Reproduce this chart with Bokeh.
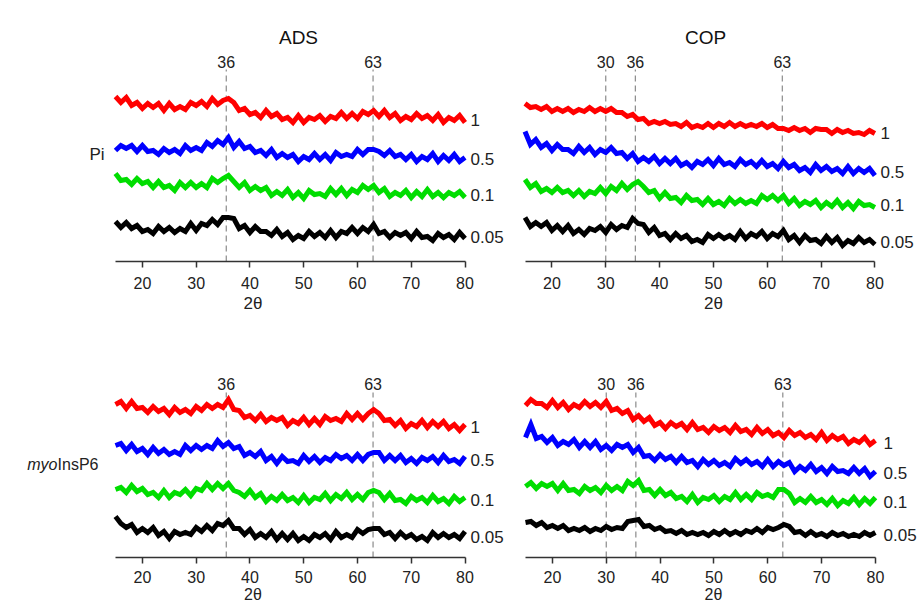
from bokeh.plotting import figure
from bokeh.layouts import column, row
from bokeh.models import Range1d, FixedTicker, Label
from bokeh.embed import file_html
from bokeh.resources import INLINE

# ---------------- data ----------------
two_theta = list(range(15, 81))
tick_values = [20, 30, 40, 50, 60, 70, 80]
loadings = ["1", "0.5", "0.1", "0.05"]
colors = ["#ff0000", "#0000ff", "#00dd00", "#000000"]

# ADS / Pi  (relative intensity, arbitrary units)
ads_pi_1 = [23,17,22,14,17,11,16,12,16,9,16,10,13,10,17,14,18,13,21,15,19,21,17,9,11,5,7,2,9,3,6,0,2,-3,4,-3,2,0,4,-2,3,1,7,1,6,1,8,5,9,3,9,2,6,-1,3,0,6,1,4,-1,5,-3,2,-1,4,-3]
ads_pi_05 = [8,13,10,13,7,13,7,8,4,10,6,9,5,13,8,11,8,16,12,18,14,21,11,17,10,12,6,8,3,9,1,5,1,4,-3,2,-1,5,-1,4,-2,6,2,4,2,9,4,9,9,7,3,8,2,4,-1,4,-3,2,-1,5,-3,3,-2,4,-3,1]
ads_pi_01 = [21,14,15,10,16,11,13,7,13,7,9,4,12,7,12,7,11,7,16,12,16,19,13,7,12,4,8,4,7,-1,3,-1,5,-3,2,-4,4,0,1,-2,6,0,6,-1,5,2,9,5,9,2,6,-2,2,-1,4,-3,3,-2,5,-2,2,-3,2,-1,3,-3]
ads_pi_005 = [15,9,14,8,11,5,7,3,10,5,9,4,8,5,13,6,13,11,17,12,19,19,18,8,11,4,10,5,5,1,7,0,4,-3,1,-2,5,0,4,-1,6,-1,5,3,9,3,9,5,12,3,5,-1,4,1,4,-2,5,-1,0,-4,3,-1,2,-3,4,-2]
ads_pi_offsets = [142, 103, 67, 25]

# COP / Pi
cop_pi_1 = [29,25,26,23,26,21,24,21,24,20,23,21,25,21,24,21,24,20,20,16,18,13,14,9,11,9,11,8,9,6,10,5,7,5,9,5,9,6,10,6,9,6,8,6,9,5,8,4,4,2,5,2,4,0,4,3,3,-1,3,0,2,-1,0,-2,2,-1]
cop_pi_05 = [40,27,32,24,28,21,27,22,22,18,25,19,24,17,22,19,24,18,19,13,18,10,14,10,15,8,13,8,13,6,9,4,10,7,12,6,13,7,9,5,12,7,10,5,11,5,8,3,10,4,7,1,4,-1,7,1,5,0,3,-2,5,-2,3,-1,3,-4]
cop_pi_01 = [25,17,21,13,16,12,17,12,14,9,14,8,13,11,17,11,18,14,21,15,20,23,18,12,14,6,12,6,7,2,9,4,5,0,6,0,3,-1,6,1,5,1,4,1,9,5,9,4,9,1,6,-1,3,0,4,-3,2,-2,4,-3,2,-4,3,-1,0,-3]
cop_pi_005 = [24,15,19,15,19,11,16,10,16,8,12,7,13,11,15,9,17,12,16,14,23,18,17,9,14,6,8,2,8,3,6,0,2,-1,7,3,7,3,6,2,10,3,8,5,10,3,8,5,11,2,6,-1,6,1,2,-2,5,-1,4,-4,1,-2,4,-1,2,-3]
cop_pi_offsets = [129, 90, 57, 20]

# ADS / myo-InsP6
ads_ip6_1 = [22,25,18,25,18,19,14,20,15,18,12,19,14,17,13,20,16,22,18,22,19,27,17,16,9,11,6,12,5,9,6,9,1,6,3,9,2,8,2,10,6,8,5,13,7,13,7,13,17,13,6,7,1,6,-2,3,0,6,-1,5,0,5,-2,2,-4,2]
ads_ip6_05 = [14,16,9,15,8,11,5,12,6,10,5,8,5,14,9,14,10,14,11,19,13,17,11,13,4,7,3,8,-1,3,-4,3,-2,-1,-4,4,-2,3,-3,2,-1,5,1,4,-1,5,-1,5,7,7,-1,4,-1,4,-3,1,-4,2,-1,3,-3,4,-2,0,-4,3]
ads_ip6_01 = [10,12,7,14,8,11,5,7,2,9,2,7,5,10,4,11,9,16,10,16,11,16,9,7,3,9,2,6,-2,3,-1,5,-1,2,-3,4,-3,2,0,6,-1,5,1,7,0,5,0,7,9,7,0,6,-1,0,-4,3,-1,2,-3,4,-2,1,-4,3,-2,2]
ads_ip6_005 = [20,13,9,12,4,8,4,9,1,5,-2,5,2,4,2,9,5,11,6,13,11,16,8,8,2,7,-1,3,-1,5,-3,3,-3,3,-4,0,-4,2,-1,3,-3,5,-1,2,-1,7,3,7,8,8,2,4,-2,4,-1,2,-3,0,-4,4,-1,3,-1,2,-2,5]
ads_ip6_offsets = [131, 98, 58, 21]

# COP / myo-InsP6
cop_ip6_1 = [37,43,39,39,35,42,35,40,33,38,35,41,36,40,35,41,32,34,29,32,23,27,21,25,17,20,14,20,16,19,13,20,13,15,10,16,12,15,10,17,11,13,8,15,9,13,7,10,5,12,7,10,5,8,3,10,2,7,3,6,-1,3,0,5,-2,2]
cop_ip6_05 = [35,48,34,36,30,35,27,31,28,33,25,31,25,31,23,27,22,28,25,28,20,25,16,17,12,18,13,16,10,16,10,12,6,13,8,12,7,10,6,14,9,13,8,11,6,13,6,11,7,10,1,6,2,8,1,5,-1,6,1,2,-1,5,-1,4,-4,1]
cop_ip6_01 = [15,19,13,18,15,18,11,18,11,12,8,15,11,14,9,16,11,15,11,20,16,21,11,12,6,12,6,9,3,5,0,7,-1,4,2,6,0,5,2,9,2,7,2,9,5,7,4,12,12,8,-1,3,-1,5,-1,2,-3,3,-4,1,-2,4,-3,3,-2,4]
cop_ip6_005 = [12,13,9,12,7,9,6,9,4,6,4,7,3,6,4,8,5,7,6,13,14,15,8,9,5,7,3,4,1,4,0,2,0,2,-1,3,0,4,0,3,0,4,2,6,2,7,5,7,10,8,2,3,-1,3,-1,1,-2,2,-1,1,-2,0,-2,2,-1,2]
cop_ip6_offsets = [115, 85, 56, 23]

ads_peaks = [35.6, 62.9]
ads_peak_labels = ["36", "63"]
cop_peaks = [30.0, 35.5, 62.8]
cop_peak_labels = ["30", "36", "63"]

FONT = "Liberation Sans"
TXT = "#222222"


def make_panel(fw, fh, bottom, px_left, ppu, series, offsets, peaks, peak_labels,
               peak_label_px, dash_top_px, series_label_px, title=None, title_px=None,
               label_standoff=9, axis_label_size="17px", axis_label_standoff=2):
    x0 = 15 - px_left / ppu
    x1 = x0 + fw / ppu
    p = figure(frame_width=fw, frame_height=fh, x_range=Range1d(x0, x1),
               y_range=Range1d(0, fh), output_backend="svg", toolbar_location=None,
               y_axis_location=None, min_border_left=0, min_border_right=0,
               min_border_top=0, min_border_bottom=bottom)
    p.outline_line_color = None
    p.xgrid.visible = False
    p.ygrid.visible = False
    p.background_fill_color = "white"
    p.border_fill_color = "white"
    ax = p.xaxis[0]
    ax.ticker = FixedTicker(ticks=tick_values)
    ax.bounds = (15, 80)
    ax.minor_tick_line_color = None
    ax.major_tick_in = 0
    ax.major_tick_out = 6
    ax.axis_line_color = "#333333"
    ax.axis_line_width = 1.5
    ax.major_tick_line_color = "#333333"
    ax.major_tick_line_width = 1.5
    ax.major_label_text_font = FONT
    ax.major_label_text_font_size = "16px"
    ax.major_label_text_color = TXT
    ax.major_label_standoff = label_standoff
    ax.axis_label = "2θ"
    ax.axis_label_text_font = FONT
    ax.axis_label_text_font_size = axis_label_size
    ax.axis_label_text_font_style = "normal"
    ax.axis_label_text_color = TXT
    ax.axis_label_standoff = axis_label_standoff

    def dx(px):
        return x0 + px / ppu

    def dy(py):
        return fh - py

    # dashed reference lines
    for pk, lab in zip(peaks, peak_labels):
        p.segment(x0=[pk], y0=[0], x1=[pk], y1=[dy(dash_top_px)],
                  line_color="#8a8a8a", line_width=1.2, line_dash="6 4")
        p.add_layout(Label(x=pk, y=dy(peak_label_px), text=lab, text_font=FONT,
                           text_font_size="16px", text_color=TXT,
                           text_align="center", text_baseline="middle"))

    for vals, off, col, lab in zip(series, offsets, colors, loadings):
        p.line(two_theta, [off + v for v in vals], line_color=col, line_width=5,
               line_join="miter")
        p.add_layout(Label(x=dx(series_label_px), y=off, text=lab, text_font=FONT,
                           text_font_size="17px", text_color=TXT,
                           text_align="left", text_baseline="middle"))

    if title is not None:
        p.add_layout(Label(x=dx(title_px[0]), y=dy(title_px[1]), text=title,
                           text_font=FONT, text_font_size="19px", text_color="#111111",
                           text_align="center", text_baseline="middle"))
    return p, dx, dy


LEFT_W = 505
RIGHT_W = 921 - LEFT_W
BOT_FH = 237
BOT_BORDER = 48

p_tl, dx_tl, dy_tl = make_panel(LEFT_W, 261, 59, 115, 5.377,
                                [ads_pi_1, ads_pi_05, ads_pi_01, ads_pi_005], ads_pi_offsets,
                                ads_peaks, ads_peak_labels, 61, 69, 470,
                                title="ADS", title_px=(298, 37))
p_tl.add_layout(Label(x=dx_tl(104), y=dy_tl(154), text="Pi", text_font=FONT,
                      text_font_size="17px", text_color=TXT, text_align="right",
                      text_baseline="middle"))

p_tr, dx_tr, dy_tr = make_panel(RIGHT_W, 261, 59, 524.5 - LEFT_W, 5.383,
                                [cop_pi_1, cop_pi_05, cop_pi_01, cop_pi_005], cop_pi_offsets,
                                cop_peaks, cop_peak_labels, 61, 69, 880 - LEFT_W,
                                title="COP", title_px=(705 - LEFT_W, 37))

p_bl, dx_bl, dy_bl = make_panel(LEFT_W, BOT_FH, BOT_BORDER, 115, 5.377,
                                [ads_ip6_1, ads_ip6_05, ads_ip6_01, ads_ip6_005], ads_ip6_offsets,
                                ads_peaks, ads_peak_labels, 63, 72, 470,
                                label_standoff=7, axis_label_size="16px", axis_label_standoff=0)
p_bl.add_layout(Label(x=dx_bl(98), y=dy_bl(144), text="InsP6", text_font=FONT,
                      text_font_size="16px", text_color=TXT, text_align="right",
                      text_baseline="middle"))
p_bl.add_layout(Label(x=dx_bl(98 - 41), y=dy_bl(144), text="myo", text_font=FONT,
                      text_font_size="16px", text_font_style="italic", text_color=TXT,
                      text_align="right", text_baseline="middle"))

p_br, dx_br, dy_br = make_panel(RIGHT_W, BOT_FH, BOT_BORDER, 525 - LEFT_W, 5.383,
                                [cop_ip6_1, cop_ip6_05, cop_ip6_01, cop_ip6_005], cop_ip6_offsets,
                                cop_peaks, cop_peak_labels, 63, 72, 883 - LEFT_W,
                                label_standoff=7, axis_label_size="16px", axis_label_standoff=0)

layout = column(row(p_tl, p_tr), row(p_bl, p_br))

open("out.html", "w").write(file_html(layout, INLINE))
